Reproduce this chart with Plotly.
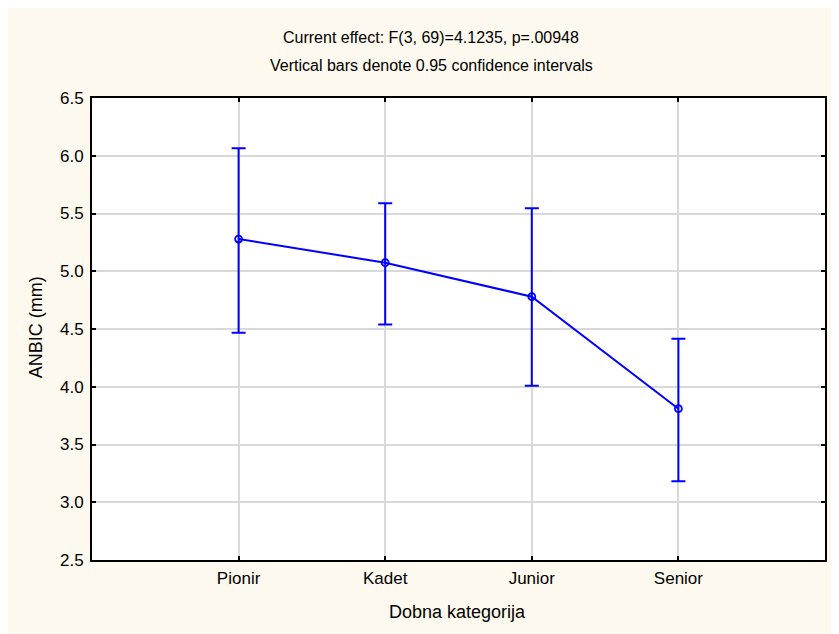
import plotly.graph_objects as go

categories = ["Pionir", "Kadet", "Junior", "Senior"]
means = [5.279, 5.074, 4.780, 3.810]
upper = [6.065, 5.588, 5.545, 4.416]
lower = [4.468, 4.540, 4.009, 3.181]
y_ticks = [2.5, 3.0, 3.5, 4.0, 4.5, 5.0, 5.5, 6.0, 6.5]

err_plus = [u - m for u, m in zip(upper, means)]
err_minus = [m - l for m, l in zip(means, lower)]
xs = list(range(len(categories)))

blue = "#0000FF"
font = "Liberation Sans, Arial, sans-serif"

# page offset of 8px (body margin); plot area on page: x 92..827, y 98..560
PW, PH = 735, 462

fig = go.Figure()
fig.add_trace(go.Scatter(
    x=xs, y=means, mode="lines+markers",
    line=dict(color=blue, width=2),
    marker=dict(symbol="circle-open", size=7, color=blue, line=dict(width=1.8, color=blue)),
    error_y=dict(type="data", symmetric=False, array=err_plus, arrayminus=err_minus,
                 color=blue, thickness=2, width=7),
    showlegend=False,
))

fig.update_layout(
    width=831, height=626,
    margin=dict(l=84, r=12, t=90, b=74),
    paper_bgcolor="#FDF9EE",
    plot_bgcolor="white",
    font=dict(family=font, size=17, color="black"),
    xaxis=dict(
        range=[-1, 4], tickmode="array", tickvals=xs, ticktext=categories,
        showgrid=True, gridcolor="#D9D9D9", gridwidth=1.5,
        showline=True, linecolor="black", linewidth=2, mirror="ticks",
        ticks="inside", ticklen=4, tickcolor="black", tickwidth=1.5,
        zeroline=False, tickfont=dict(size=17), ticklabelstandoff=2,
    ),
    yaxis=dict(
        range=[2.5, 6.5], tickmode="array", tickvals=y_ticks,
        ticktext=[f"{v:.1f}" for v in y_ticks],
        showgrid=True, gridcolor="#D9D9D9", gridwidth=1.5,
        showline=True, linecolor="black", linewidth=2, mirror="ticks",
        ticks="inside", ticklen=4, tickcolor="black", tickwidth=1.5,
        zeroline=False, tickfont=dict(size=17), ticklabelstandoff=3,
    ),
    annotations=[
        dict(text="Current effect: F(3, 69)=4.1235, p=.00948", xref="paper", yref="paper",
             x=(432 - 92) / PW, y=1 + 61 / PH, xanchor="center", yanchor="middle",
             showarrow=False, font=dict(size=16)),
        dict(text="Vertical bars denote 0.95 confidence intervals", xref="paper", yref="paper",
             x=(432 - 92) / PW, y=1 + 32 / PH, xanchor="center", yanchor="middle",
             showarrow=False, font=dict(size=16)),
        dict(text="Dobna kategorija", xref="paper", yref="paper",
             x=(458 - 92) / PW, y=-52 / PH, xanchor="center", yanchor="middle",
             showarrow=False, font=dict(size=18)),
        dict(text="ANBIC (mm)", xref="paper", yref="paper", textangle=-90,
             x=-56 / PW, y=(560 - 327) / PH, xanchor="center", yanchor="middle",
             showarrow=False, font=dict(size=18)),
    ],
)
fig.write_html("out.html")
